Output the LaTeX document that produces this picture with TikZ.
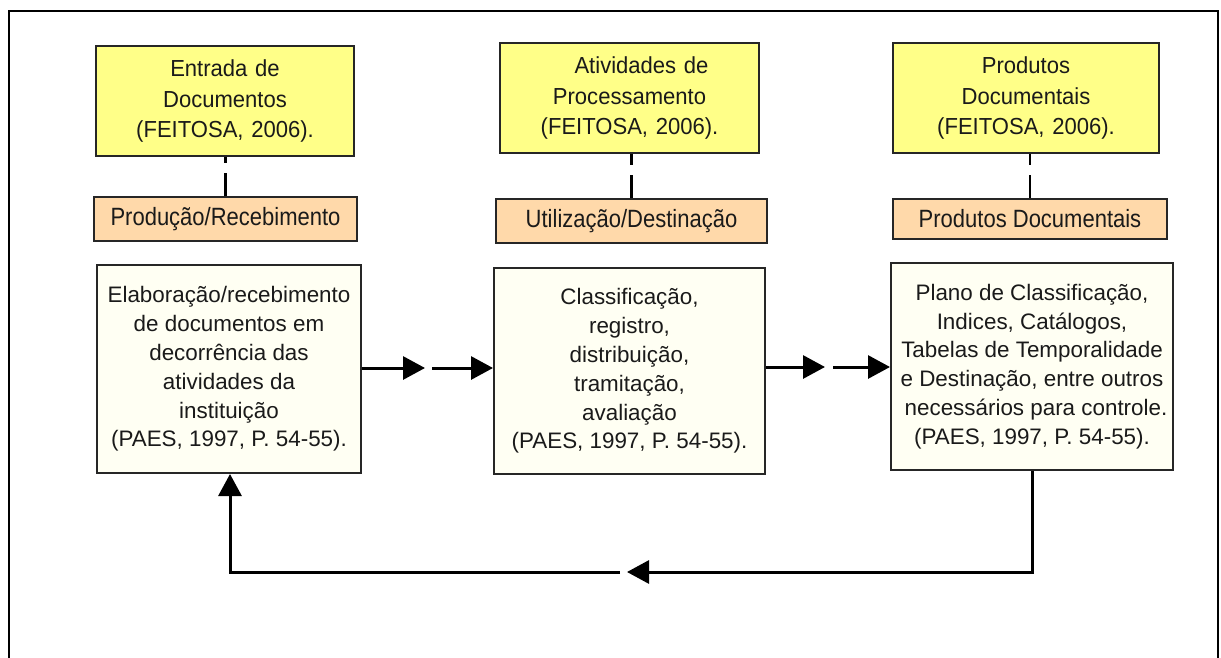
\documentclass[tikz,border=0pt]{standalone}
\usepackage{fontspec}
\setmainfont{Liberation Sans}
\newfontfamily\tagfont[FakeStretch=0.88]{Liberation Sans}
\newfontfamily\hdrfont[FakeStretch=0.95]{Liberation Sans}
\usetikzlibrary{arrows.meta,calc}
\definecolor{hdryellow}{HTML}{FFFF88}
\definecolor{hdrpeach}{HTML}{FFD9AA}
\definecolor{boxivory}{HTML}{FFFFF3}
\definecolor{txtgray}{HTML}{1A1A1A}
\begin{document}
\begin{tikzpicture}[x=0.5pt,y=-0.5pt,
  hdrbox/.style={draw=black!85,line width=1pt,fill=hdryellow,inner sep=0pt,align=center,
    text=txtgray,font=\hdrfont\fontsize{11.6}{15.4}\selectfont,text width=125pt},
  tagbox/.style={draw=black!85,line width=1pt,fill=hdrpeach,inner sep=0pt,align=center,
    text=txtgray,font=\tagfont\fontsize{12.5}{14}\selectfont},
  bodybox/.style={draw=black!85,line width=1pt,fill=boxivory,inner sep=0pt,align=center,
    text=txtgray,font=\fontsize{11.2}{14.4}\selectfont},
  linkdash/.style={line width=1.2pt,dash pattern=on 11.5pt off 5pt},
  flow/.style={line width=1.5pt,-{Triangle[length=11pt,width=11.5pt]}}]
\useasboundingbox (0,0) rectangle (1221,658);
\fill[white] (0,0) rectangle (1221,658);
% frame
\draw[line width=1pt] (9,658) -- (9,11) -- (1218,11) -- (1218,658);

% header boxes
\node[hdrbox,minimum width=129pt,minimum height=55pt] (y1) at (225,101)
  {Entrada de\\Documentos\\(FEITOSA, 2006).};
\node[hdrbox,minimum width=129.5pt,minimum height=55pt] (y2) at (629.5,98)
  {\hspace*{12pt}Atividades de\\Processamento\\(FEITOSA, 2006).};
\node[hdrbox,minimum width=133pt,minimum height=55pt] (y3) at (1026,98)
  {Produtos\\Documentais\\(FEITOSA, 2006).};

% tag boxes
\node[tagbox,minimum width=131.5pt,minimum height=22pt] (o1) at (225.5,219) {Produção/Recebimento};
\node[tagbox,minimum width=135.5pt,minimum height=22pt] (o2) at (631.5,221) {Utilização/Destinação};
\node[tagbox,minimum width=137pt,minimum height=20pt] (o3) at (1030,219) {Produtos Documentais};

% dashed links
\draw[linkdash] (o1.north) -- (o1.north |- y1.south);
\draw[linkdash] (o2.north) -- (o2.north |- y2.south);
\draw[linkdash] (o3.north) -- (o3.north |- y3.south);

% body boxes
\node[bodybox,minimum width=132pt,minimum height=104pt] (b1) at (229,369)
  {Elaboração/recebimento\\de documentos em\\decorrência das\\atividades da\\instituição\\(PAES, 1997, P. 54-55).};
\node[bodybox,minimum width=135.5pt,minimum height=103pt] (b2) at (629.5,371)
  {Classificação,\\registro,\\distribuição,\\tramitação,\\avaliação\\(PAES, 1997, P. 54-55).};
\node[bodybox,minimum width=141pt,minimum height=103.5pt] (b3) at (1032,366.5)
  {Plano de Classificação,\\Indices, Catálogos,\\Tabelas de Temporalidade\\e Destinação, entre outros\\\hspace*{4pt}necessários para controle.\\(PAES, 1997, P. 54-55).};

% flow coordinates
\coordinate (m1a) at (425,368);
\coordinate (m1b) at (432,368);
\coordinate (m2a) at (825,367);
\coordinate (m2b) at (833,367);
\coordinate (m3a) at (627,572);
\coordinate (m3b) at (620,572);
\coordinate (m3c) at (1032,572);

\draw[flow] (b1.east |- m1a) -- (m1a);
\draw[flow] (m1b) -- (m1b -| b2.west);
\draw[flow] (b2.east |- m2a) -- (m2a);
\draw[flow] (m2b) -- (m2b -| b3.west);
\draw[flow] (b3.south -| m3c) -- (m3c) -- (m3a);
\draw[flow] (m3b) -| ($(b1.south)+(1,0)$);
\end{tikzpicture}
\end{document}
